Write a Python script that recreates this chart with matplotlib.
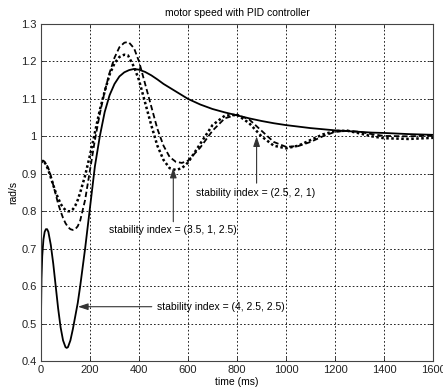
import matplotlib
matplotlib.use("Agg")
import matplotlib.pyplot as plt

# time samples (ms)
t_solid = [0, 2, 5, 10, 15, 20, 25, 30, 40, 50, 60, 70, 80, 90, 100, 105, 110, 120, 130, 140,
           150, 160, 180, 200, 220, 240, 260, 280, 300, 320, 340, 360, 380, 400, 425, 450, 475,
           500, 525, 550, 575, 600, 650, 700, 750, 800, 850, 900, 950, 1000, 1050, 1100, 1150,
           1200, 1250, 1300, 1350, 1400, 1500, 1600]
v_solid = [0.52, 0.62, 0.68, 0.725, 0.745, 0.752, 0.752, 0.745, 0.71, 0.66, 0.60, 0.54, 0.49,
           0.455, 0.437, 0.435, 0.437, 0.455, 0.485, 0.52, 0.555, 0.60, 0.70, 0.81, 0.92, 1.0,
           1.065, 1.11, 1.14, 1.16, 1.171, 1.177, 1.18, 1.178, 1.172, 1.163, 1.152, 1.14,
           1.13, 1.12, 1.11, 1.10, 1.085, 1.073, 1.064, 1.056, 1.048, 1.041, 1.035, 1.030,
           1.026, 1.022, 1.019, 1.016, 1.014, 1.012, 1.010, 1.009, 1.006, 1.004]

t_osc = [0, 10, 20, 30, 40, 50, 60, 70, 80, 90, 100, 110, 120, 130, 140, 150, 160, 180, 200,
         220, 240, 260, 280, 300, 320, 340, 355, 360, 380, 400, 425, 450, 475, 500, 525, 550,
         575, 600, 650, 700, 750, 800, 850, 900, 950, 1000, 1050, 1100, 1150, 1200, 1250, 1300,
         1350, 1400, 1500, 1600]
v_dashed = [0.935, 0.935, 0.928, 0.915, 0.895, 0.87, 0.845, 0.82, 0.80, 0.782, 0.768, 0.758,
            0.752, 0.75, 0.752, 0.76, 0.775, 0.83, 0.91, 0.99, 1.06, 1.12, 1.17, 1.21, 1.238,
            1.25, 1.252, 1.25, 1.235, 1.20, 1.14, 1.08, 1.02, 0.975, 0.945, 0.932, 0.929, 0.935,
            0.97, 1.015, 1.048, 1.058, 1.045, 1.015, 0.985, 0.972, 0.974, 0.985, 1.0, 1.012,
            1.015, 1.012, 1.006, 1.001, 1.0, 1.002]
v_dotted = [0.93, 0.935, 0.925, 0.91, 0.89, 0.87, 0.85, 0.835, 0.82, 0.81, 0.803, 0.80, 0.80,
            0.805, 0.815, 0.83, 0.85, 0.895, 0.95, 1.01, 1.07, 1.12, 1.165, 1.195, 1.212, 1.218,
            1.216, 1.21, 1.185, 1.15, 1.09, 1.03, 0.975, 0.937, 0.915, 0.91, 0.915, 0.93, 0.98,
            1.03, 1.055, 1.058, 1.035, 1.0, 0.975, 0.968, 0.975, 0.99, 1.005, 1.014, 1.015,
            1.008, 1.0, 0.995, 0.993, 0.996]

x_ticks = [0, 200, 400, 600, 800, 1000, 1200, 1400, 1600]
y_ticks = [0.4, 0.5, 0.6, 0.7, 0.8, 0.9, 1.0, 1.1, 1.2, 1.3]
y_tick_labels = ["0.4", "0.5", "0.6", "0.7", "0.8", "0.9", "1", "1.1", "1.2", "1.3"]

labels = ["stability index = (4, 2.5, 2.5)", "stability index = (3.5, 1, 2.5)",
          "stability index = (2.5, 2, 1)"]

plt.rcParams['font.family'] = ['Liberation Sans', 'DejaVu Sans']

fig = plt.figure(figsize=(4.43, 3.92), dpi=100)
ax = fig.add_axes([41/443, 31/392, 392/443, 337/392])

ax.plot(t_solid, v_solid, color='black', lw=1.3, ls='-')
ax.plot(t_osc, v_dashed, color='black', lw=1.3, ls=(0, (3, 1.6)))
ax.plot(t_osc, v_dotted, color='black', lw=1.8, ls=(0, (1, 1)))

ax.set_xlim(0, 1600)
ax.set_ylim(0.4, 1.3)
ax.set_xticks(x_ticks)
ax.set_yticks(y_ticks)
ax.set_yticklabels(y_tick_labels)
ax.tick_params(direction='in', labelsize=8, length=3, width=0.6, colors='#222222',
               top=True, right=True, pad=3)
ax.grid(True, color='black', ls=(0, (2, 2.5)), lw=0.6)
for s in ax.spines.values():
    s.set_color('#444444')
    s.set_linewidth(0.8)

ax.set_title("motor speed with PID controller", fontsize=7.5, pad=6)
ax.set_xlabel("time (ms)", fontsize=7.5, labelpad=1)
ax.set_ylabel("rad/s", fontsize=7.5, labelpad=2)

arrow = dict(arrowstyle='-|>,head_length=0.6,head_width=0.2', color='#333333', lw=0.8,
             shrinkA=0, shrinkB=0)
# label 0: horizontal arrow
ax.annotate('', xy=(151, 0.545), xytext=(452, 0.545), arrowprops=arrow)
ax.text(472, 0.543, labels[0], fontsize=7.5, ha='left', va='center')
# label 1: vertical arrow
ax.annotate('', xy=(540, 0.916), xytext=(540, 0.772), arrowprops=arrow)
ax.text(540, 0.750, labels[1], fontsize=7.5, ha='center', va='center')
# label 2: vertical arrow
ax.annotate('', xy=(880, 1.0), xytext=(880, 0.875), arrowprops=arrow)
ax.text(876, 0.850, labels[2], fontsize=7.5, ha='center', va='center')

fig.savefig("out.png", dpi=100)
